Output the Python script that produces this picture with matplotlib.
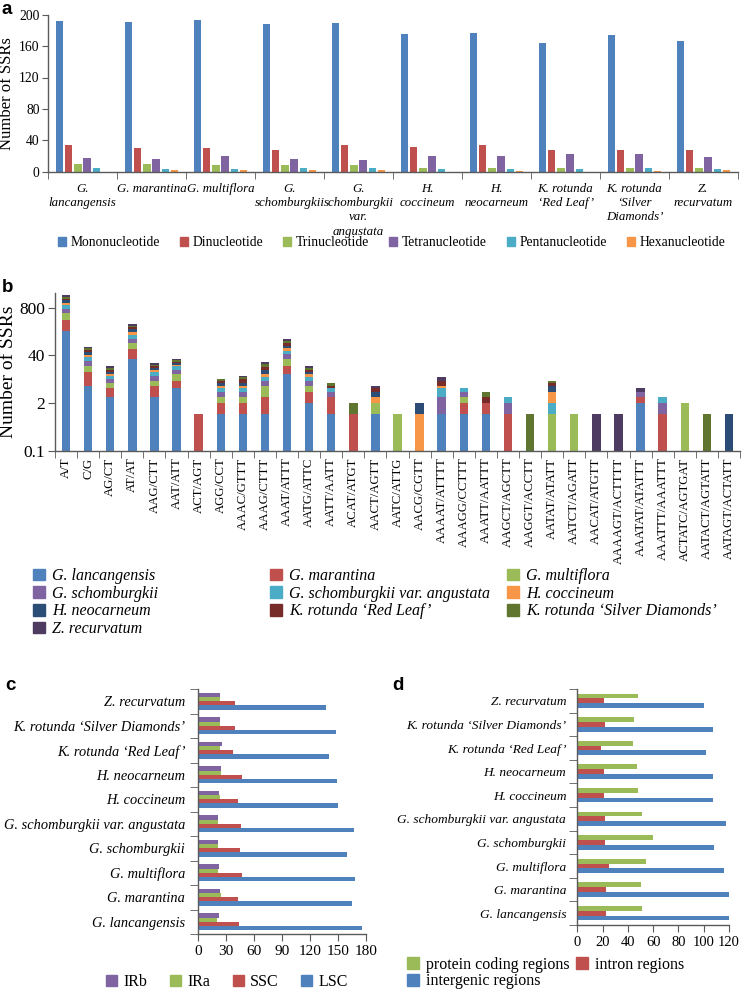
import matplotlib
matplotlib.use('Agg')
import matplotlib.pyplot as plt
import numpy as np
from matplotlib.patches import Patch
from matplotlib.ticker import NullLocator

plt.rcParams['font.family'] = ['Liberation Serif', 'DejaVu Serif']

# ---------------- data ----------------
species = ["G. lancangensis", "G. marantina", "G. multiflora", "G. schomburgkii",
           "G. schomburgkii var. angustata", "H. coccineum", "H. neocarneum",
           "K. rotunda \u2018Red Leaf\u2019", "K. rotunda \u2018Silver Diamonds\u2019",
           "Z. recurvatum"]
a_labels = ["G.\nlancangensis", "G. marantina", "G. multiflora", "G.\nschomburgkii",
            "G.\nschomburgkii\nvar.\nangustata", "H.\ncoccineum", "H.\nneocarneum",
            "K. rotunda\n\u2018Red Leaf\u2019", "K. rotunda\n\u2018Silver\nDiamonds\u2019",
            "Z.\nrecurvatum"]

# panel a: SSR types per species
repeat_types = ["Mononucleotide", "Dinucleotide", "Trinucleotide",
                "Tetranucleotide", "Pentanucleotide", "Hexanucleotide"]
mono = [192, 191, 193, 188, 190, 176, 177, 164, 174, 166]
di = [34, 30, 30, 28, 34, 32, 34, 28, 28, 28]
tri = [10, 10, 8, 8, 8, 5, 5, 5, 5, 5]
tetra = [18, 16, 20, 16, 15, 20, 20, 23, 22, 19]
penta = [5, 3, 3, 5, 5, 3, 3, 3, 5, 3]
hexa = [0, 2, 2, 2, 2, 0, 1, 0, 1, 2]

# panel b: motifs
motifs = ["A/T", "C/G", "AG/CT", "AT/AT", "AAG/CTT", "AAT/ATT", "ACT/AGT", "AGG/CCT",
          "AAAC/GTTT", "AAAG/CTTT", "AAAT/ATTT", "AATG/ATTC", "AATT/AATT", "ACAT/ATGT",
          "AACT/AGTT", "AATC/ATTG", "AACG/CGTT", "AAAAT/ATTTT", "AAAGG/CCTTT",
          "AAATT/AATTT", "AAGCT/AGCTT", "AAGGT/ACCTT", "AATAT/ATATT", "AATCT/AGATT",
          "AACAT/ATGTT", "AAAAGT/ACTTTT", "AAATAT/ATATTT", "AAATTT/AAATTT",
          "ACTATC/AGTGAT", "AATACT/AGTATT", "AATAGT/ACTATT"]
b_lancangensis = [185, 6, 3, 31, 3, 5, 0, 1, 1, 1, 12, 2, 1, 0, 1, 0, 0, 1, 1, 1, 0, 0, 0, 0, 0, 0, 2, 0, 0, 0, 0]
b_marantina = [182, 8, 2, 28, 3, 3, 1, 1, 1, 2, 8, 2, 2, 1, 0, 0, 0, 0, 1, 1, 1, 0, 0, 0, 0, 0, 1, 1, 0, 0, 0]
b_multiflora = [185, 7, 2, 28, 2, 4, 0, 1, 1, 3, 12, 2, 0, 0, 1, 1, 0, 0, 1, 0, 0, 0, 1, 1, 0, 0, 0, 0, 2, 0, 0]
b_schomburgkii = [180, 7, 2, 25, 3, 4, 0, 1, 1, 2, 11, 2, 1, 0, 0, 0, 0, 2, 1, 0, 1, 0, 0, 0, 0, 0, 1, 1, 0, 0, 0]
b_angustata = [181, 8, 2, 32, 3, 5, 0, 1, 1, 2, 8, 2, 1, 0, 0, 0, 0, 2, 1, 0, 1, 0, 1, 0, 0, 0, 0, 1, 0, 0, 0]
b_coccineum = [169, 6, 1, 30, 2, 1, 0, 1, 1, 2, 11, 2, 0, 0, 1, 0, 1, 1, 0, 0, 0, 0, 2, 0, 0, 0, 0, 0, 0, 0, 0]
b_neocarneum = [169, 7, 2, 31, 2, 2, 0, 1, 1, 4, 10, 2, 0, 0, 1, 0, 1, 0, 0, 0, 0, 0, 2, 0, 0, 0, 0, 0, 0, 0, 1]
b_redleaf = [157, 6, 2, 25, 2, 2, 0, 1, 2, 3, 12, 2, 1, 0, 1, 0, 0, 2, 0, 1, 0, 0, 1, 0, 0, 0, 0, 0, 0, 0, 0]
b_silver = [165, 7, 2, 25, 2, 3, 0, 1, 1, 4, 13, 2, 1, 1, 0, 0, 0, 0, 0, 1, 0, 1, 1, 0, 0, 0, 0, 0, 0, 1, 0]
b_recurvatum = [160, 6, 3, 24, 2, 3, 0, 0, 1, 3, 11, 2, 0, 0, 1, 0, 0, 2, 0, 0, 0, 0, 0, 0, 1, 1, 1, 0, 0, 0, 0]

# panel c: regions (LSC/SSC/IR)
c_IRb = [23, 24, 23, 22, 22, 23, 25, 26, 24, 24]
c_IRa = [21, 25, 22, 22, 22, 24, 25, 24, 24, 24]
c_SSC = [44, 43, 47, 45, 46, 43, 47, 38, 40, 40]
c_LSC = [176, 165, 168, 160, 167, 150, 149, 141, 148, 137]

# panel d: genomic regions
d_protein = [51, 50, 54, 60, 51, 48, 47, 44, 45, 48]
d_intron = [23, 23, 25, 22, 22, 21, 21, 19, 22, 21]
d_intergenic = [120, 120, 116, 108, 118, 107, 107, 102, 107, 100]

# ---------------- styles ----------------
col6 = ["#4F81BD", "#C0504D", "#9BBB59", "#8064A2", "#4BACC6", "#F79646"]
col10 = col6 + ["#2C4D75", "#772C2A", "#5F7530", "#4D3B62"]
AXC = "#5a5a5a"

W, H = 743, 992
fig = plt.figure(figsize=(W / 100, H / 100), dpi=100)


def box(l, t, r, b):
    return [l / W, 1 - b / H, (r - l) / W, (b - t) / H]


def style_spines(ax):
    for s in ["top", "right"]:
        ax.spines[s].set_visible(False)
    for s in ["left", "bottom"]:
        ax.spines[s].set_color(AXC)
        ax.spines[s].set_linewidth(1.0)


# ---------------- panel a ----------------
axA = fig.add_axes(box(48, 14.7, 738, 171.7))
style_spines(axA)
series_a = [mono, di, tri, tetra, penta, hexa]
x = np.arange(len(species))
for k, (vals, c) in enumerate(zip(series_a, col6)):
    axA.bar(x + (k - 2.5) * 0.133, vals, width=0.108, color=c, linewidth=0)
axA.set_xlim(-0.5, 9.5)
axA.set_ylim(0, 200)
axA.set_yticks(range(0, 201, 40))
axA.tick_params(axis='y', labelsize=9.8, length=4, color=AXC, pad=2)
axA.set_xticks(x)
axA.set_xticklabels(a_labels, fontstyle='italic', fontsize=9.3, linespacing=1.25)
axA.tick_params(axis='x', which='major', length=0, pad=8)
axA.set_xticks(np.arange(-0.5, 10, 1), minor=True)
axA.tick_params(axis='x', which='minor', length=5, color=AXC)
axA.set_ylabel("Number of SSRs", fontsize=12, labelpad=3)

fig.legend([Patch(color=c) for c in col6], repeat_types, loc='center',
           bbox_to_anchor=(0.527, 1 - 243 / H), ncol=6, frameon=False,
           handlelength=0.6, handleheight=0.6, handletextpad=0.35,
           columnspacing=1.45, fontsize=9.8)

# ---------------- panel b ----------------
axB = fig.add_axes(box(55, 293, 740, 450.7))
style_spines(axB)
series_b = [b_lancangensis, b_marantina, b_multiflora, b_schomburgkii, b_angustata,
            b_coccineum, b_neocarneum, b_redleaf, b_silver, b_recurvatum]
xb = np.arange(len(motifs))
axB.set_yscale('log', base=20)
bottom = np.zeros(len(motifs))
for vals, c in zip(series_b, col10):
    v = np.array(vals, dtype=float)
    axB.bar(xb, v, bottom=bottom, width=0.38, color=c, linewidth=0)
    bottom = bottom + v
axB.set_ylim(0.1, 2000)
axB.set_xlim(-0.5, len(motifs) - 0.5)
axB.set_yticks([0.1, 2, 40, 800])
axB.set_yticklabels(["0.1", "2", "40", "800"])
axB.yaxis.set_minor_locator(NullLocator())
axB.tick_params(axis='y', labelsize=12.5, length=5, color=AXC, pad=2)
axB.set_xticks(xb)
axB.set_xticklabels(motifs, rotation=90, fontsize=9.2)
axB.tick_params(axis='x', which='major', length=0, pad=5)
axB.set_xticks(np.arange(-0.5, len(motifs), 1), minor=True)
axB.tick_params(axis='x', which='minor', length=5, color=AXC)
axB.set_ylabel("Number of SSRs", fontsize=14, labelpad=2)

handles_b = [Patch(color=c) for c in col10]
cols = [[0, 3, 6, 9], [1, 4, 7], [2, 5, 8]]
xs = [30, 267, 504]
for idxs, xx in zip(cols, xs):
    fig.legend([handles_b[i] for i in idxs], [species[i] for i in idxs],
               loc='upper left', bbox_to_anchor=(xx / W, 1 - 565 / H), ncol=1,
               frameon=False, handlelength=0.75, handleheight=0.75,
               handletextpad=0.45, labelspacing=0.1, prop={'size': 11.5, 'style': 'italic'},
               borderaxespad=0, borderpad=0.2)

# ---------------- panel c ----------------
yc = np.arange(len(species))
axC = fig.add_axes(box(197.7, 689, 365.7, 934))
style_spines(axC)
for vals, off, c in zip([c_IRb, c_IRa, c_SSC, c_LSC], [0.255, 0.085, -0.085, -0.255],
                        ["#8064A2", "#9BBB59", "#C0504D", "#4F81BD"]):
    axC.barh(yc + off, vals, height=0.17, color=c, linewidth=0)
axC.set_xlim(0, 180)
axC.set_ylim(-0.5, 9.5)
axC.set_xticks(range(0, 181, 30))
axC.tick_params(axis='x', labelsize=11, length=5, color=AXC, pad=3)
axC.set_yticks(yc)
axC.set_yticklabels(species, fontstyle='italic', fontsize=10.4)
axC.tick_params(axis='y', which='major', length=0, pad=9)
axC.set_yticks(np.arange(-0.5, 10, 1), minor=True)
axC.tick_params(axis='y', which='minor', length=6, color=AXC)
fig.legend([Patch(color=c) for c in ["#8064A2", "#9BBB59", "#C0504D", "#4F81BD"]],
           ["IRb", "IRa", "SSC", "LSC"], loc='center',
           bbox_to_anchor=(227 / W, 1 - 982 / H), ncol=4, frameon=False,
           handlelength=0.7, handleheight=0.7, handletextpad=0.4,
           columnspacing=1.4, fontsize=11.5)

# ---------------- panel d ----------------
axD = fig.add_axes(box(577.3, 689, 729, 925))
style_spines(axD)
for vals, off, c in zip([d_protein, d_intron, d_intergenic], [0.205, 0.0, -0.205],
                        ["#9BBB59", "#C0504D", "#4F81BD"]):
    axD.barh(yc + off, vals, height=0.205, color=c, linewidth=0)
axD.set_xlim(0, 120)
axD.set_ylim(-0.5, 9.5)
axD.set_xticks(range(0, 121, 20))
axD.tick_params(axis='x', labelsize=10.5, length=5, color=AXC, pad=3)
axD.set_yticks(yc)
axD.set_yticklabels(species, fontstyle='italic', fontsize=9.6)
axD.tick_params(axis='y', which='major', length=0, pad=8)
axD.set_yticks(np.arange(-0.5, 10, 1), minor=True)
axD.tick_params(axis='y', which='minor', length=6, color=AXC)
fig.legend([Patch(color="#9BBB59"), Patch(color="#4F81BD"), Patch(color="#C0504D")],
           ["protein coding regions", "intergenic regions", "intron regions"],
           loc='upper left', bbox_to_anchor=(405 / W, 1 - 955 / H), ncol=2,
           frameon=False, handlelength=0.75, handleheight=0.75, handletextpad=0.45,
           labelspacing=0.05, columnspacing=0.4, fontsize=11.5, borderaxespad=0,
           borderpad=0.1)

# ---------------- panel letters ----------------
for lbl, xx, yy in [("a", 2, 10), ("b", 2, 287), ("c", 5, 685), ("d", 392, 685)]:
    fig.text(xx / W, 1 - yy / H, lbl, fontsize=13.5, fontweight='bold',
             family='Liberation Sans', va='center', ha='left')

fig.savefig("out.png", dpi=100)
